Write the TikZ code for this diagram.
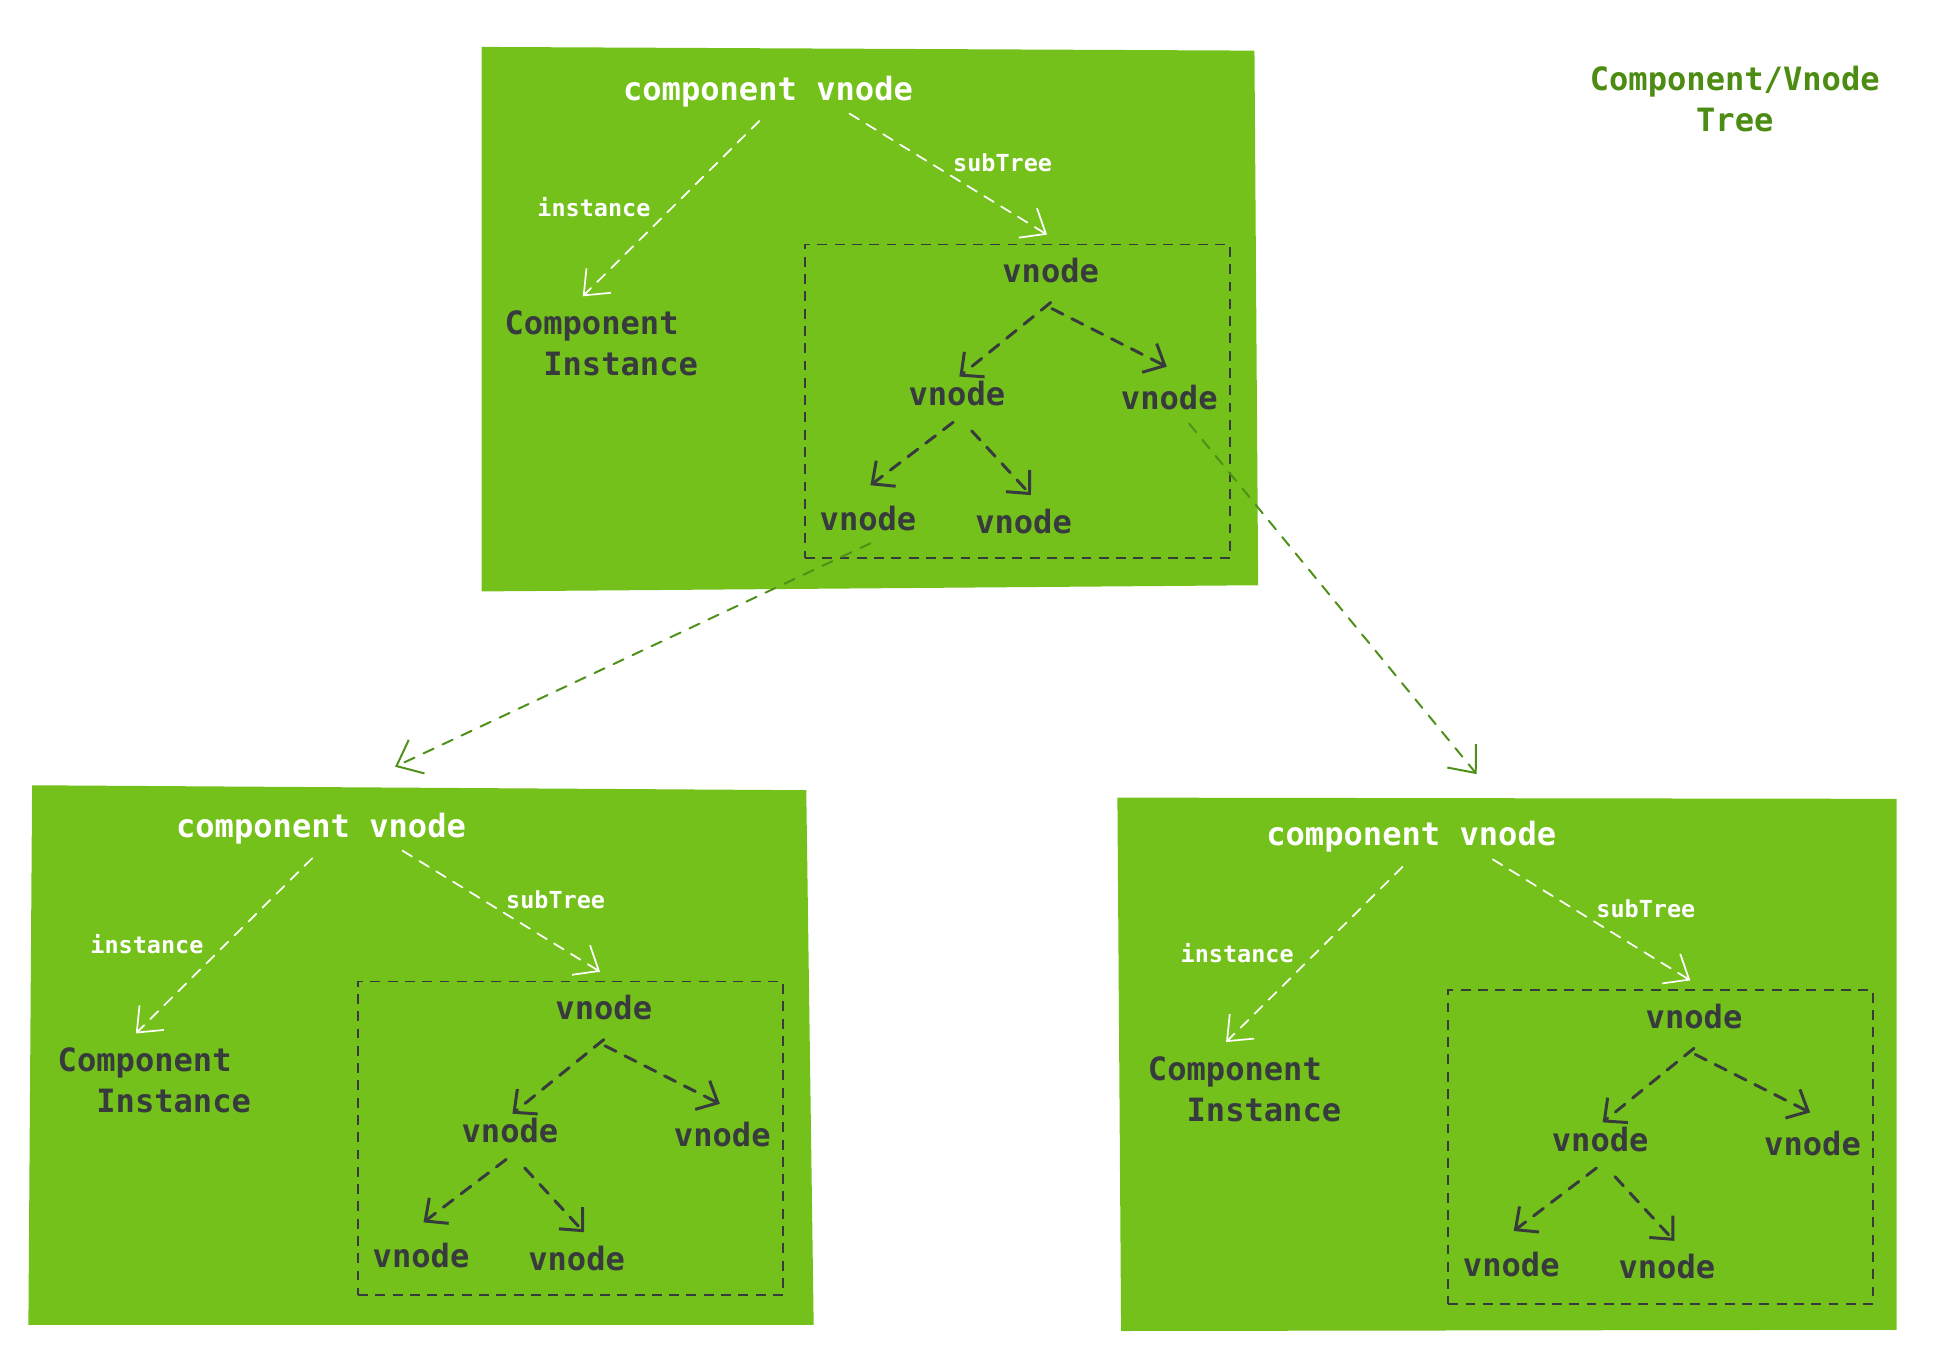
\documentclass[tikz,border=0pt]{standalone}
\usepackage{fontspec}
\setmonofont{DejaVu Sans Mono}
\usetikzlibrary{arrows.meta}
\definecolor{boxgreen}{HTML}{73C11A}
\definecolor{titlegreen}{HTML}{4C8C12}
\definecolor{linkgreen}{HTML}{4F9018}
\definecolor{ink}{HTML}{373B3E}
\tikzset{
  wtext/.style={text=white, font=\ttfamily\bfseries\fontsize{26}{33}\selectfont, inner sep=0pt},
  wsmall/.style={text=white, font=\ttfamily\bfseries\fontsize{19}{23}\selectfont, inner sep=0pt},
  dtext/.style={text=ink, font=\ttfamily\bfseries\fontsize{26}{33}\selectfont, inner sep=0pt},
  ttext/.style={text=titlegreen, font=\ttfamily\bfseries\fontsize{26}{33}\selectfont, inner sep=0pt, align=center},
  warrow/.style={draw=white, line width=1.4pt, line cap=round, dash pattern=on 9pt off 7pt,
    -{Straight Barb[length=17pt,width=28pt]}},
  darrow/.style={draw=ink, line width=2.4pt, line cap=round, dash pattern=on 10pt off 8pt,
    -{Straight Barb[length=14pt,width=26pt]}},
  framebox/.style={draw=ink, line width=1.4pt, dash pattern=on 8pt off 6pt,
    minimum width=344pt, minimum height=254pt, inner sep=0pt},
  garrow/.style={draw=linkgreen, line width=1.6pt, line cap=round, dash pattern=on 9pt off 8pt,
    -{Straight Barb[length=18pt,width=30pt]}},
  panel/.style={fill=boxgreen},
}
\newcommand\treebody{%
  \node[framebox] (fr) at (824,325) {};
  \node[wtext] (cv) at (622,74) {component vnode};
  \node[dtext, align=left] (ci) at (487,278) {Component\\\phantom{Co}Instance};
  \node[wsmall] (il) at (481,168) {instance};
  \node[wsmall] (sl) at (812,132) {subTree};
  \node[dtext] (v1) at (851,219) {vnode};
  \node[dtext] (v2) at (775,319) {vnode};
  \node[dtext] (v3) at (947,322) {vnode};
  \node[dtext] (v4) at (703,420) {vnode};
  \node[dtext] (v5) at (829,422) {vnode};
  \draw[warrow] ([shift={(-7,24)}]cv.center) -- ([shift={(-15,-38)}]ci.center);
  \draw[warrow] ([shift={(66,18)}]cv.center) -- ([shift={(-3,-29)}]v1.center);
  \draw[darrow] ([shift={(0,26)}]v1.center) -- ([shift={(2,-14)}]v2.center);
  \draw[darrow] ([shift={(1,31)}]v1.center) -- ([shift={(-2,-25)}]v3.center);
  \draw[darrow] ([shift={(-3,23)}]v2.center) -- ([shift={(2,-27)}]v4.center);
  \draw[darrow] ([shift={(12,30)}]v2.center) -- ([shift={(6,-21)}]v5.center);
}
\begin{document}
\begin{tikzpicture}[x=1pt, y=-1pt]
  \useasboundingbox (0,0) rectangle (1568,1105);
  % panels
  \path[panel] (390,38) -- (1016,41) -- (1019,474) -- (390,479) -- cycle;
  \path[panel] (26,636) -- (653,640) -- (659,1073) -- (23,1073) -- cycle;
  \path[panel] (905,646) -- (1536,647) -- (1536,1077) -- (908,1078) -- cycle;
  % title
  \node[ttext] (title) at (1405,80) {Component/Vnode\\Tree};
  % trees
  \begin{scope}[name prefix=A-]
    \treebody
  \end{scope}
  \begin{scope}[shift={(-362,597)}, name prefix=B-]
    \treebody
  \end{scope}
  \begin{scope}[shift={(521,604)}, name prefix=C-]
    \treebody
  \end{scope}
  % links between trees
  \coordinate (Bin) at (320,621);
  \coordinate (Cin) at (1196,627);
  \draw[garrow] ([shift={(2,20)}]A-v4.center) -- (Bin);
  \draw[garrow] ([shift={(16,21)}]A-v3.center) -- (Cin);
\end{tikzpicture}
\end{document}
